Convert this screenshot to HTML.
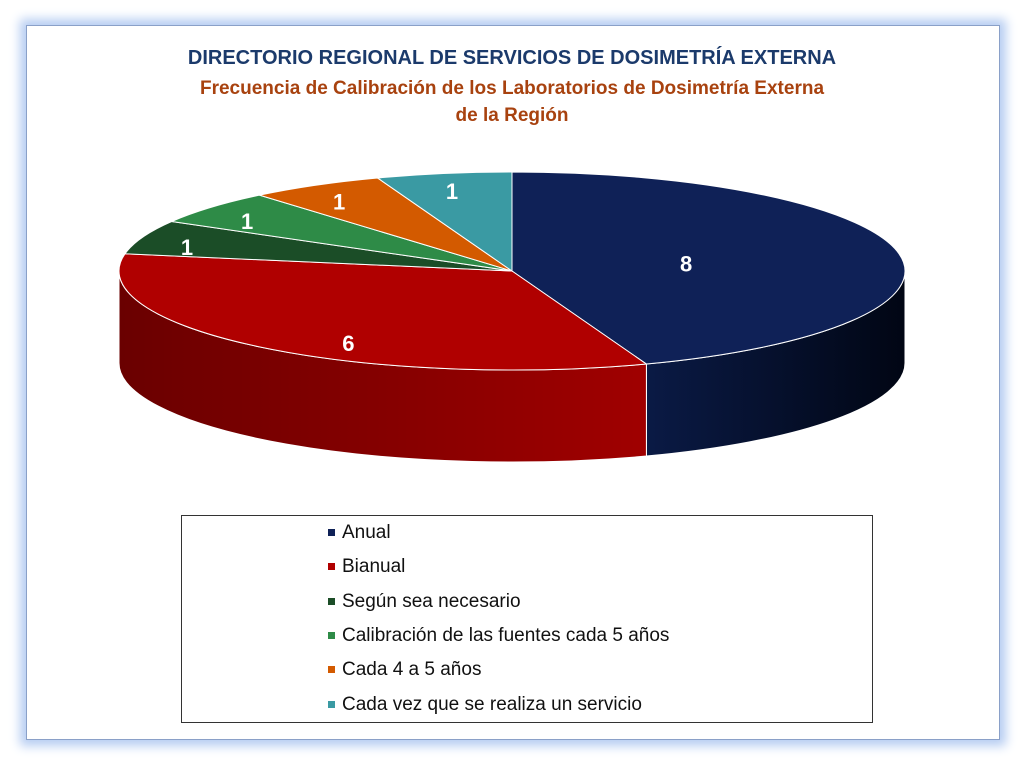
<!DOCTYPE html>
<html><head><meta charset="utf-8"><style>
body{margin:0;width:1024px;height:763px;background:#fff;font-family:"Liberation Sans",sans-serif;overflow:hidden}
#frame{position:absolute;left:26px;top:25px;width:972px;height:713px;border:1px solid #8aa0c8;box-shadow:0 0 10px 6px #b6cdf2;background:#fff}
.t{position:absolute;left:0;width:1024px;text-align:center;font-weight:bold}
#legend{position:absolute;left:181px;top:515px;width:690px;height:206px;border:1px solid #333;background:#fff}
.le{position:absolute;left:146px;font-size:19px;color:#111;height:22px;line-height:22px}
.le span{display:inline-block;width:7px;height:7px;margin-right:7px;vertical-align:2px}
</style></head><body>
<div id="frame"></div>
<div class="t" style="top:47px;font-size:20px;color:#1b3a6b">DIRECTORIO REGIONAL DE SERVICIOS DE DOSIMETRÍA EXTERNA</div>
<div class="t" style="top:75px;font-size:19px;color:#a8420f;line-height:27px">Frecuencia de Calibración de los Laboratorios de Dosimetría Externa<br>de la Región</div>
<svg id="pie" width="1024" height="763" style="position:absolute;left:0;top:0"></svg>
<div id="legend"></div>
<script>
const categories=["Anual","Bianual","Según sea necesario","Calibración de las fuentes cada 5 años","Cada 4 a 5 años","Cada vez que se realiza un servicio"];
const values=[8,6,1,1,1,1];
const topColors=["#0f2157","#b00000","#1b4d27","#2e8b47","#d35a00","#3a9aa3"];
const sideDark=["#010614","#6a0000","#0f2e17","#1b5a2c","#8a3a00","#226066"];
const sideLight=["#0a1a45","#a00000","#1b4d27","#2e8b47","#d35a00","#3a9aa3"];
const svg=document.getElementById('pie');const NS="http://www.w3.org/2000/svg";
const cx=512,cy=271,rx=393,ry=99,depth=92;
const total=values.reduce((a,b)=>a+b,0);
function pt(a,dy){const r=a*Math.PI/180;return [cx+rx*Math.cos(r),cy+ry*Math.sin(r)+(dy||0)];}
function mk(tag,attrs){const e=document.createElementNS(NS,tag);for(const k in attrs)e.setAttribute(k,attrs[k]);svg.appendChild(e);return e;}
const defs=document.createElementNS(NS,'defs');svg.appendChild(defs);
let ang=-90;const slices=[];
values.forEach((v,i)=>{const s=ang,e=ang+v/total*360;slices.push([s,e]);ang=e;});
// sides
slices.forEach(([s,e],i)=>{
  let a=Math.max(s,0),b=Math.min(e,180);
  if(e>360){a=Math.max(s,360);b=Math.min(e,540);}
  if(b<=a)return;
  const g=document.createElementNS(NS,'linearGradient');g.setAttribute('id','g'+i);
  g.setAttribute('x1','0');g.setAttribute('x2','1');g.setAttribute('y1','0');g.setAttribute('y2','0');
  const c1=i==0?sideDark[i]:sideLight[i],c2=i==0?sideLight[i]:sideDark[i];
  g.innerHTML='<stop offset="0" stop-color="'+c2+'"/><stop offset="1" stop-color="'+c1+'"/>';
  defs.appendChild(g);
  const p1=pt(a),p2=pt(b),p3=pt(b,depth),p4=pt(a,depth);
  const p=mk('path',{d:`M${p1} A${rx},${ry} 0 0 1 ${p2} L${p3} A${rx},${ry} 0 0 0 ${p4} Z`,fill:'url(#g'+i+')',stroke:'#fff','stroke-width':1});
  
  
});
// tops
slices.forEach(([s,e],i)=>{
  const p1=pt(s),p2=pt(e);const large=(e-s)>180?1:0;
  const p=mk('path',{d:`M${cx},${cy} L${p1} A${rx},${ry} 0 ${large} 1 ${p2} Z`,fill:topColors[i],stroke:'#fff','stroke-width':1});
  
  
});
// labels
slices.forEach(([s,e],i)=>{
  const m=(s+e)/2,r=m*Math.PI/180;const big=values[i]>=5;
  const f=big?0.45:0.88;
  let x=cx+rx*f*Math.cos(r),y=cy+ry*f*Math.sin(r)+(big?8:14);
  if(big&&Math.sin(r)>0.3){x-=50;y+=38;}
  const t=mk('text',{x:x,y:y,'text-anchor':'middle','font-size':22,'font-weight':'bold',fill:'#fff','font-family':'Liberation Sans, sans-serif'});
  t.textContent=values[i];
  
  
});
const lg=document.getElementById('legend');
categories.forEach((c,i)=>{const d=document.createElement('div');d.className='le';d.style.top=(6+i*34.3)+'px';
  d.innerHTML='<span style="background:'+topColors[i]+'"></span>'+c;
  
  
  lg.appendChild(d);});
</script>
</body></html>
